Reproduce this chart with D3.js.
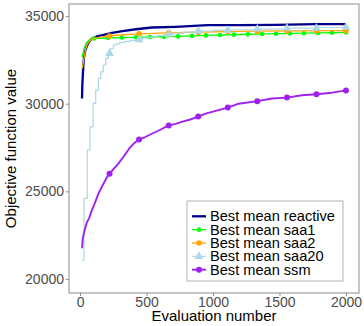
<!DOCTYPE html>
<html>
<head>
<meta charset="utf-8">
<script src="https://cdn.jsdelivr.net/npm/d3@7"></script>
<style>
  body { margin: 0; background: #fff; }
  svg { display: block; font-family: "Liberation Sans", Arial, sans-serif; }
</style>
</head>
<body>
<div id="chart"></div>
<script>
// series: evaluation number -> best mean objective value
const reactiveX = [15, 17, 20, 25, 30, 40, 55, 70, 92, 130, 170, 240, 320, 420, 540, 720, 960, 1200, 1470, 1770, 2000];
const reactiveY = [30300, 31000, 31500, 32200, 32650, 33050, 33350, 33550, 33720, 33850, 33920, 34040, 34140, 34250, 34350, 34390, 34480, 34490, 34500, 34540, 34545];

const saa1X = [15, 20, 30, 50, 75, 105, 200, 300, 400, 500, 600, 700, 800, 900, 1000, 1200, 1400, 1600, 1800, 2000];
const saa1Y = [32650, 32800, 33150, 33500, 33680, 33720, 33750, 33770, 33790, 33800, 33810, 33830, 33860, 33890, 33910, 33950, 33980, 34010, 34040, 34070];

const saa2X = [15, 20, 30, 40, 55, 75, 100, 150, 200, 300, 444, 600, 800, 1000, 1300, 1600, 2000];
const saa2Y = [32000, 32150, 32600, 33050, 33400, 33600, 33720, 33800, 33850, 33920, 33990, 34030, 34070, 34100, 34140, 34160, 34170];

const saa20X = [15, 30, 55, 75, 98, 118, 138, 156, 175, 193, 213, 230, 250, 270, 300, 340, 380, 420, 470, 520, 580, 640, 700, 780, 880, 1000, 1150, 1333, 1554, 1780, 2000];
const saa20Y = [21080, 24600, 27350, 28680, 30020, 30780, 31450, 31820, 32200, 32590, 32870, 33150, 33350, 33420, 33500, 33560, 33610, 33650, 33740, 33800, 33880, 33960, 34030, 34080, 34140, 34180, 34220, 34260, 34310, 34350, 34360];

const ssmX = [15, 20, 30, 50, 70, 90, 110, 140, 170, 210, 250, 290, 330, 370, 400, 440, 490, 544, 600, 662, 720, 770, 830, 887, 950, 1000, 1110, 1193, 1336, 1444, 1556, 1669, 1777, 1895, 2000];
const ssmY = [21750, 22300, 22650, 23200, 23500, 23950, 24300, 24900, 25350, 25900, 26250, 26600, 27000, 27450, 27700, 27950, 28100, 28300, 28500, 28750, 28850, 28980, 29100, 29260, 29450, 29550, 29780, 30000, 30150, 30300, 30350, 30480, 30540, 30630, 30760];

// where the point markers sit along each line
const markerX9 = [222, 444, 667, 889, 1111, 1333, 1556, 1778, 2000];
const markerX19 = [105, 211, 316, 421, 526, 632, 737, 842, 947, 1053, 1158, 1263, 1368, 1474, 1579, 1684, 1789, 1895, 2000];

const xTicks = [0, 500, 1000, 1500, 2000];
const yTicks = [20000, 25000, 30000, 35000];

const series = [
    { name: "Best mean reactive", xs: reactiveX, ys: reactiveY, color: "#00008b", width: 2.3, shape: null, marks: [], step: false },
    { name: "Best mean saa1", xs: saa1X, ys: saa1Y, color: "#00ff00", width: 1.3, shape: "circle", r: 2.3, marks: markerX19, step: false },
    { name: "Best mean saa2", xs: saa2X, ys: saa2Y, color: "#ffa500", width: 1.3, shape: "circle", r: 2.8, marks: markerX9, step: false },
    { name: "Best mean saa20", xs: saa20X, ys: saa20Y, color: "#add8e6", width: 1.2, shape: "triangle", r: 3.6, marks: markerX9, step: true },
    { name: "Best mean ssm", xs: ssmX, ys: ssmY, color: "#a020f0", width: 1.9, shape: "circle", r: 3, marks: markerX9, step: false }
];

const width = 364, height = 326;
const margin = { top: 4, right: 5, bottom: 33, left: 69 };

const svg = d3.select("#chart").append("svg")
    .attr("width", width)
    .attr("height", height);

const x = d3.scaleLinear().domain([-83, 2098]).range([margin.left, width - margin.right]);
const y = d3.scaleLinear().domain([19200, 35690]).range([height - margin.bottom, margin.top]);

// clip so lines stay inside the panel
svg.append("clipPath").attr("id", "clip")
    .append("rect")
    .attr("x", margin.left).attr("y", margin.top)
    .attr("width", width - margin.left - margin.right)
    .attr("height", height - margin.top - margin.bottom);

const g = svg.append("g").attr("clip-path", "url(#clip)");

function valueAt(s, xv) {
    const i = d3.bisectRight(s.xs, xv) - 1;
    if (i < 0) return s.ys[0];
    if (i >= s.xs.length - 1 || s.step) return s.ys[Math.min(i, s.ys.length - 1)];
    const t = (xv - s.xs[i]) / (s.xs[i + 1] - s.xs[i]);
    return s.ys[i] + t * (s.ys[i + 1] - s.ys[i]);
}

const triangle = d3.symbol().type(d3.symbolTriangle);

series.forEach(s => {
    const pts = s.xs.map((xv, i) => [xv, s.ys[i]]);
    const line = d3.line()
        .x(d => x(d[0]))
        .y(d => y(d[1]))
        .curve(s.step ? d3.curveStepAfter : d3.curveLinear);

    g.append("path")
        .datum(pts)
        .attr("fill", "none")
        .attr("stroke", s.color)
        .attr("stroke-width", s.width)
        .attr("stroke-linejoin", "round")
        .attr("d", line);

    const marks = s.marks.map(xv => [xv, valueAt(s, xv)]);
    if (s.shape === "circle") {
        g.append("g").selectAll("circle")
            .data(marks)
            .join("circle")
            .attr("cx", d => x(d[0]))
            .attr("cy", d => y(d[1]))
            .attr("r", s.r)
            .attr("fill", s.color);
    } else if (s.shape === "triangle") {
        g.append("g").selectAll("path")
            .data(marks)
            .join("path")
            .attr("transform", d => `translate(${x(d[0])},${y(d[1])})`)
            .attr("d", triangle.size(s.r * s.r * 2.6))
            .attr("fill", s.color);
    }
});

// panel border
svg.append("rect")
    .attr("x", margin.left).attr("y", margin.top)
    .attr("width", width - margin.left - margin.right)
    .attr("height", height - margin.top - margin.bottom)
    .attr("fill", "none")
    .attr("stroke", "#8c8c8c")
    .attr("stroke-width", 1);

// axes
const xAxis = svg.append("g")
    .attr("transform", `translate(0,${height - margin.bottom})`)
    .call(d3.axisBottom(x).tickValues(xTicks).tickSize(3).tickPadding(1).tickFormat(d3.format("d")));
const yAxis = svg.append("g")
    .attr("transform", `translate(${margin.left},0)`)
    .call(d3.axisLeft(y).tickValues(yTicks).tickSize(3).tickPadding(2).tickFormat(d3.format("d")));

[xAxis, yAxis].forEach(a => {
    a.select(".domain").remove();
    a.selectAll(".tick line").attr("stroke", "#8c8c8c");
    a.selectAll(".tick text")
        .attr("fill", "#4d4d4d")
        .style("font-size", "14px")
        .style("font-family", "Liberation Sans, Arial, sans-serif");
});

svg.append("text")
    .attr("x", (margin.left + width - margin.right) / 2)
    .attr("y", 321)
    .attr("text-anchor", "middle")
    .style("font-size", "15px")
    .attr("fill", "#000")
    .text("Evaluation number");

svg.append("text")
    .attr("transform", `translate(16,${(margin.top + height - margin.bottom) / 2}) rotate(-90)`)
    .attr("text-anchor", "middle")
    .style("font-size", "15px")
    .attr("fill", "#000")
    .text("Objective function value");

// legend
const legend = svg.append("g").attr("transform", "translate(187,201)");
legend.append("rect")
    .attr("width", 156).attr("height", 80)
    .attr("fill", "#fff")
    .attr("stroke", "#b3b3b3")
    .attr("stroke-width", 1);

series.forEach((s, i) => {
    const row = legend.append("g").attr("transform", `translate(0,${15.3 + i * 13.35})`);
    row.append("line")
        .attr("x1", 5).attr("x2", 19)
        .attr("stroke", s.color)
        .attr("stroke-width", s.width);
    if (s.shape === "circle") {
        row.append("circle").attr("cx", 12).attr("r", s.r).attr("fill", s.color);
    } else if (s.shape === "triangle") {
        row.append("path").attr("transform", "translate(12,0)")
            .attr("d", triangle.size(s.r * s.r * 2.6)).attr("fill", s.color);
    }
    row.append("text")
        .attr("x", 23)
        .attr("y", 5)
        .style("font-size", "14.6px")
        .attr("fill", "#000")
        .text(s.name);
});
</script>
</body>
</html>
